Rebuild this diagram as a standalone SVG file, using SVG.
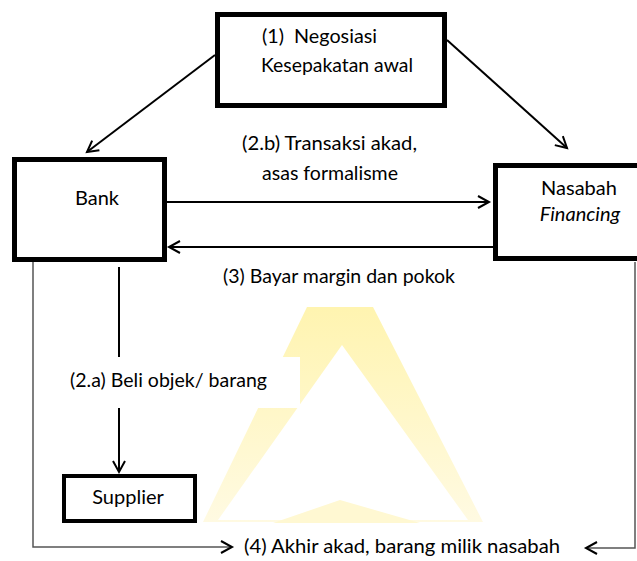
<svg xmlns="http://www.w3.org/2000/svg" width="637" height="561" viewBox="0 0 637 561">
  <defs>
    <marker id="arr" markerUnits="userSpaceOnUse" markerWidth="16" markerHeight="16" refX="13" refY="8" orient="auto">
      <path d="M2,2 L13,8 L2,14" fill="none" stroke="#000" stroke-width="2"/>
    </marker>
    <linearGradient id="wm" x1="0" y1="0" x2="0" y2="1">
      <stop offset="0" stop-color="#FFF4B0"/>
      <stop offset="1" stop-color="#FFFAE2"/>
    </linearGradient>
    <style>
      .box{fill:#fff;stroke:#000;stroke-width:5}
      .conn{fill:none;stroke:#000;stroke-width:2}
      .thin{fill:none;stroke:#555;stroke-width:1.5}
      .t{font-family:Lato,"Open Sans","Liberation Sans",sans-serif;font-size:20px;fill:#000}
      .lbg{fill:#fff}
    </style>
  </defs>
  <rect width="637" height="561" fill="#fff"/>
  <g id="watermark">
    <path d="M307,307 L373,307 L483,522 L203,522 Z M342,345 L218,520 L468,520 Z" fill="url(#wm)" fill-rule="evenodd"/>
    <path d="M273,523 L340,500 L420,523 Z" fill="#FFF8D2"/>
  </g>
  <g id="connectors">
    <line class="conn" x1="215" y1="55" x2="87" y2="152" marker-end="url(#arr)"/>
    <line class="conn" x1="447" y1="40" x2="567" y2="148" marker-end="url(#arr)"/>
    <line class="conn" x1="167" y1="202" x2="489" y2="202" marker-end="url(#arr)"/>
    <line class="conn" x1="493" y1="247" x2="169" y2="247" marker-end="url(#arr)"/>
    <line class="conn" x1="119" y1="267" x2="119" y2="472" marker-end="url(#arr)"/>
    <polyline class="thin" points="33,262 33,547 232,547" marker-end="url(#arr)"/>
    <polyline class="thin" points="635,262 635,548 586,548" marker-end="url(#arr)"/>
  </g>
  <g id="labels">
    <rect class="lbg" x="64" y="357" width="236" height="51"/>
    <text class="t" x="70" y="387" textLength="197" lengthAdjust="spacingAndGlyphs">(2.a) Beli objek/ barang</text>
    <rect class="lbg" x="218" y="262" width="244" height="30"/>
    <text class="t" x="223" y="283" textLength="232" lengthAdjust="spacingAndGlyphs">(3) Bayar margin dan pokok</text>
    <text class="t" x="242" y="150" textLength="175" lengthAdjust="spacingAndGlyphs">(2.b) Transaksi akad,</text>
    <text class="t" x="262" y="180" textLength="136" lengthAdjust="spacingAndGlyphs">asas formalisme</text>
    <rect class="lbg" x="238" y="530" width="340" height="31"/>
    <text class="t" x="244" y="553" textLength="316" lengthAdjust="spacingAndGlyphs">(4) Akhir akad, barang milik nasabah</text>
  </g>
  <g id="node-negosiasi">
    <rect class="box" x="217.5" y="14.5" width="227" height="91"/>
    <text class="t" x="262" y="43" style="white-space:pre" textLength="115" lengthAdjust="spacingAndGlyphs">(1)  Negosiasi</text>
    <text class="t" x="261" y="72" textLength="152" lengthAdjust="spacingAndGlyphs">Kesepakatan awal</text>
  </g>
  <g id="node-bank">
    <rect class="box" x="14.5" y="159.5" width="150" height="100"/>
    <text class="t" x="97" y="205" text-anchor="middle">Bank</text>
  </g>
  <g id="node-nasabah">
    <rect class="box" x="495.5" y="165.5" width="150" height="93"/>
    <text class="t" x="579" y="195" text-anchor="middle">Nasabah</text>
    <text class="t" x="580" y="221" text-anchor="middle" font-style="italic">Financing</text>
  </g>
  <g id="node-supplier">
    <rect class="box" x="64" y="476" width="131" height="45" style="stroke-width:4"/>
    <text class="t" x="128" y="504" text-anchor="middle">Supplier</text>
  </g>
</svg>
